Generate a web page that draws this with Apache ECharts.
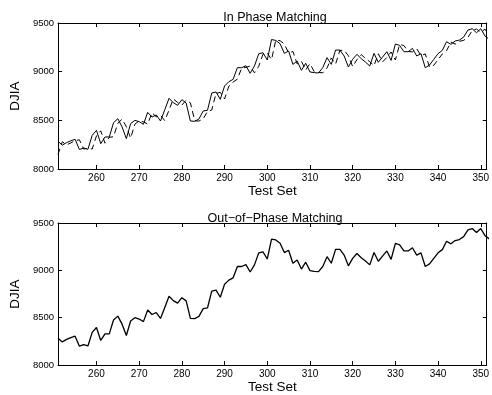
<!DOCTYPE html>
<html>
<head>
<meta charset="utf-8">
<script src="https://cdn.jsdelivr.net/npm/echarts@6/dist/echarts.min.js"></script>
<style>
html,body{margin:0;padding:0;background:#fff;}
#chart{width:492px;height:395px;}
</style>
</head>
<body>
<div id="chart"></div>
<script>
const firstTestIndex = 251;
const actualDJIA = [8284, 8245, 8271, 8290, 8305, 8200, 8216, 8202, 8346, 8397,
  8260, 8329, 8329, 8476, 8517, 8432, 8312, 8466, 8500, 8486,
  8459, 8582, 8534, 8555, 8493, 8609, 8726, 8681, 8654, 8712,
  8678, 8493, 8490, 8514, 8596, 8603, 8781, 8791, 8716, 8853,
  8897, 8921, 9041, 9041, 9061, 8983, 9058, 9184, 9195, 9120,
  9330, 9321, 9287, 9188, 9212, 9075, 9109, 9014, 9086, 8997,
  8990, 8986, 9041, 9144, 9075, 9222, 9222, 9161, 9048, 9127,
  9178, 9133, 9099, 9058, 9188, 9096, 9150, 9205, 9116, 9284,
  9270, 9205, 9205, 9239, 9161, 9185, 9041, 9068, 9127, 9185,
  9219, 9308, 9280, 9315, 9325, 9356, 9428, 9441, 9400, 9441,
  9366, 9332];
const inPhaseMatch = [8150, 8280, 8248, 8268, 8292, 8300, 8205, 8214, 8205, 8340,
  8392, 8265, 8325, 8332, 8470, 8512, 8435, 8318, 8460, 8496,
  8484, 8462, 8578, 8536, 8552, 8497, 8605, 8720, 8684, 8656,
  8708, 8680, 8497, 8492, 8516, 8592, 8606, 8776, 8788, 8720,
  8850, 8893, 8924, 9036, 9044, 9058, 8988, 9054, 9180, 9192,
  9124, 9325, 9318, 9284, 9192, 9208, 9080, 9106, 9018, 9082,
  9000, 8993, 8988, 9038, 9140, 9078, 9218, 9220, 9164, 9052,
  9124, 9175, 9136, 9102, 9062, 9184, 9100, 9146, 9202, 9120,
  9280, 9268, 9208, 9203, 9236, 9164, 9182, 9046, 9066, 9124,
  9182, 9216, 9304, 9283, 9312, 9322, 9352, 9424, 9438, 9404,
  9437, 9368];
const xTickValues = [260, 270, 280, 290, 300, 310, 320, 330, 340, 350];
const yTickValues = [8000, 8500, 9000, 9500];
const panelTitles = ['In Phase Matching', 'Out\u2212of\u2212Phase Matching'];

const testSet = actualDJIA.map((_, i) => firstTestIndex + i);
const pairs = arr => arr.map((v, i) => [testSet[i], v]);

const FONT = 'Liberation Sans';
const grids = [
  {left: 50, right: 2, top: 23, height: 146},
  {left: 50, right: 2, top: 223, height: 146}
];

function xAxisDef(gi, pos) {
  const bottom = pos === 'bottom';
  return {
    type: 'value', gridIndex: gi, position: pos,
    min: 251, max: 351.4,
    name: bottom ? 'Test Set' : '',
    nameLocation: 'middle', nameGap: 10,
    nameTextStyle: {fontFamily: FONT, fontSize: 13.5, color: '#000'},
    axisLine: {show: true, onZero: false, lineStyle: {color: '#000', width: 1}},
    axisTick: {show: true, inside: true, length: 4, customValues: xTickValues, lineStyle: {color: '#000'}},
    axisLabel: {show: bottom, customValues: xTickValues, margin: 4, fontFamily: FONT, fontSize: 10, color: '#000'},
    splitLine: {show: false}
  };
}
function yAxisDef(gi, pos) {
  const left = pos === 'left';
  return {
    type: 'value', gridIndex: gi, position: pos,
    min: 8000, max: 9500, interval: 500,
    name: left ? 'DJIA' : '',
    nameLocation: 'middle', nameGap: 28,
    nameTextStyle: {fontFamily: FONT, fontSize: 13.5, color: '#000'},
    axisLine: {show: true, lineStyle: {color: '#000', width: 1}},
    axisTick: {show: true, inside: true, length: 4, lineStyle: {color: '#000'}},
    axisLabel: {show: left, margin: 4, fontFamily: FONT, fontSize: 9.5, color: '#000',
      customValues: yTickValues, formatter: v => String(v)},
    splitLine: {show: false}
  };
}

const option = {
  backgroundColor: '#fff',
  animation: false,
  title: [
    {text: panelTitles[0], left: 270, top: 6, textAlign: 'center',
     textStyle: {fontFamily: FONT, fontSize: 12.5, fontWeight: 'normal', color: '#000'}},
    {text: panelTitles[1], left: 270, top: 207, textAlign: 'center',
     textStyle: {fontFamily: FONT, fontSize: 12.5, fontWeight: 'normal', color: '#000'}}
  ],
  grid: grids,
  xAxis: [xAxisDef(0, 'bottom'), xAxisDef(0, 'top'), xAxisDef(1, 'bottom'), xAxisDef(1, 'top')],
  yAxis: [yAxisDef(0, 'left'), yAxisDef(0, 'right'), yAxisDef(1, 'left'), yAxisDef(1, 'right')],
  series: [
    {type: 'line', xAxisIndex: 0, yAxisIndex: 0, data: pairs(actualDJIA), showSymbol: false,
     clip: true, lineStyle: {color: '#000', width: 1}},
    {type: 'line', xAxisIndex: 0, yAxisIndex: 0, data: pairs(inPhaseMatch), showSymbol: false,
     clip: true, lineStyle: {color: '#000', width: 1, type: [6, 4]}},
    {type: 'line', xAxisIndex: 2, yAxisIndex: 2, data: pairs(actualDJIA), showSymbol: false,
     clip: true, lineStyle: {color: '#000', width: 1.3}}
  ]
};
const chart = echarts.init(document.getElementById('chart'), null, {renderer: 'canvas'});
chart.setOption(option);
</script>
</body>
</html>
